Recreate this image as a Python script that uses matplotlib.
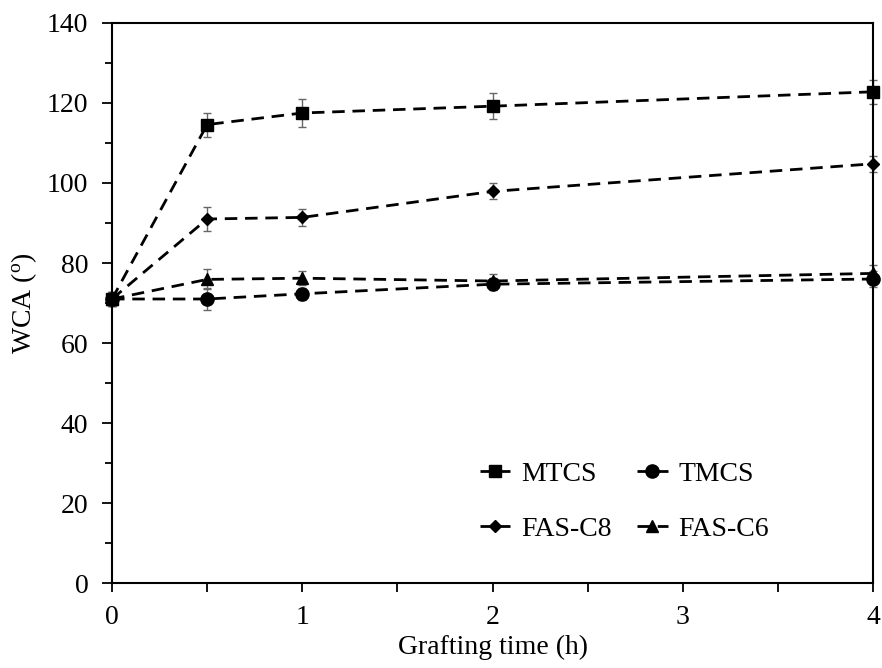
import numpy as np
import matplotlib
matplotlib.use('Agg')
import matplotlib.pyplot as plt

# data
t = [0, 0.5, 1, 2, 4]

mtcs = [71.0, 114.6, 117.5, 119.2, 122.8]
mtcs_err = [1.8, 3.0, 3.4, 3.2, 3.0]

tmcs = [71.0, 71.0, 72.3, 74.7, 76.0]
tmcs_err = [1.8, 2.7, 1.5, 1.5, 2.0]

fas_c8 = [71.0, 91.0, 91.4, 97.9, 104.8]
fas_c8_err = [1.8, 2.9, 2.2, 2.0, 2.0]

fas_c6 = [71.0, 75.9, 76.2, 75.5, 77.4]
fas_c6_err = [1.8, 2.5, 1.8, 1.8, 2.2]

xticks = [0, 0.5, 1, 1.5, 2, 2.5, 3, 3.5, 4]
xlabels = ['0', '', '1', '', '2', '', '3', '', '4']

plt.rcParams['font.family'] = ['Liberation Serif', 'DejaVu Serif']
plt.rcParams['font.size'] = 20
plt.rcParams['mathtext.fontset'] = 'custom'
plt.rcParams['mathtext.rm'] = 'Liberation Serif'


def plot_wca():

    fig = plt.figure(figsize=(8.82, 6.68), dpi=100)
    ax = fig.add_axes([0.127, 0.1272, 0.863, 0.8384])

    series = [
        ('FAS-C6', fas_c6, fas_c6_err, '^', 9),
        ('TMCS', tmcs, tmcs_err, 'o', 9.5),
        ('FAS-C8', fas_c8, fas_c8_err, 'D', 6.5),
        ('MTCS', mtcs, mtcs_err, 's', 9),
    ]
    handles = {}
    for label, y, err, mk, ms in series:
        ax.errorbar(t, y, yerr=err, fmt='none', ecolor='#666666',
                    elinewidth=1.0, capsize=3, capthick=1.0, clip_on=False, zorder=2)
        ln, = ax.plot(t, y, ls=(0, (4.5, 2.8)), lw=2.0, color='black',
                      marker=mk, ms=ms, mfc='black', mec='black',
                      clip_on=False, zorder=3, label=label)
        handles[label] = ln

    ax.set_xlim(0, 4)
    ax.set_ylim(0, 140)
    ax.set_xticks(xticks)
    ax.set_xticklabels(xlabels)
    ax.set_yticks(np.arange(0, 141, 20))
    ax.set_yticks(np.arange(10, 140, 20), minor=True)

    ax.tick_params(axis='x', direction='out', length=6.5, width=1.3, pad=9.5)
    ax.tick_params(axis='y', which='major', direction='out', length=7, width=1.3, pad=10)
    ax.tick_params(axis='y', which='minor', direction='out', length=5, width=1.3)
    for sp in ax.spines.values():
        sp.set_linewidth(1.5)

    ax.set_xlabel('Grafting time (h)', labelpad=3)
    ax.set_ylabel('WCA ($\\mathregular{^{o}}$)', labelpad=6)

    order = ['MTCS', 'FAS-C8', 'TMCS', 'FAS-C6']
    ax.legend([handles[k] for k in order], order, ncol=2, frameon=False,
              loc='upper left', bbox_to_anchor=(0.544, 0.309),
              bbox_transform=fig.transFigure, borderpad=0, borderaxespad=0,
              handlelength=1.1, handletextpad=0.4, columnspacing=0.9,
              labelspacing=1.05, fontsize=20)

    fig.savefig('out.png', dpi=100)


if __name__ == '__main__':
    plot_wca()
